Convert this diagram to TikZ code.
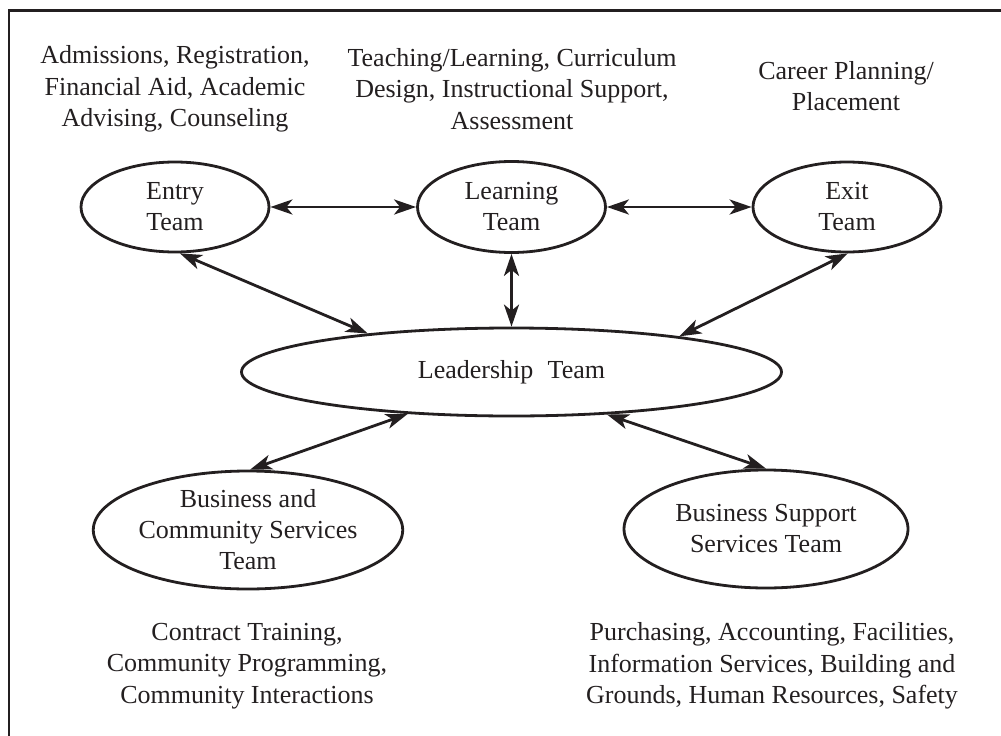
\documentclass[tikz,border=0pt]{standalone}
\usepackage{fontspec}
\setmainfont{Liberation Serif}
\usetikzlibrary{shapes.geometric,arrows.meta}
\definecolor{ink}{RGB}{35,31,32}
\tikzset{
  team/.style={draw=ink, line width=2.8pt, ellipse, inner sep=0pt, align=center, text=ink,
    font=\fontsize{26}{31}\selectfont},
  label/.style={align=center, text=ink, font=\fontsize{26}{31.5}\selectfont, inner sep=0pt},
  arr/.style={draw=ink, line width=2.8pt, {Stealth[length=22pt,width=15pt,inset=6pt]}-{Stealth[length=22pt,width=15pt,inset=6pt]}}
}
\begin{document}
\begin{tikzpicture}[x=1pt,y=-1pt]
\clip (0,0) rectangle (1001,736);
\draw[ink, line width=2.8pt] (9,760) -- (9,10.5) -- (1020,10.5);

\node[team, minimum width=188pt, minimum height=90pt] (entry) at (175,207) {Entry\\Team};
\node[team, minimum width=188pt, minimum height=91pt] (learning) at (511.5,207) {Learning\\Team};
\node[team, minimum width=188pt, minimum height=90pt] (exit) at (847,207) {Exit\\Team};
\node[team, minimum width=540pt, minimum height=88pt] (leader) at (511.5,372) {Leadership\hspace{0.3em} Team};
\node[team, minimum width=283pt, minimum height=118pt] (bcs) at (248,530) {Business and\\Community Services\\Team};
\node[team, minimum width=284pt, minimum height=118pt] (bss) at (766,529) {Business Support\\Services Team};

\node[label] (tl) at (175,89) {Admissions, Registration,\\Financial Aid, Academic\\Advising, Counseling};
\node[label] (tm) at (512,89) {Teaching/Learning, Curriculum\\Design, Instructional Support,\\Assessment};
\node[label] (tr) at (846,86) {Career Planning/\\Placement};
\node[label] (bl) at (247,666) {Contract Training,\\Community Programming,\\Community Interactions};
\node[label] (br) at (772,666) {Purchasing, Accounting, Facilities,\\Information Services, Building and\\Grounds, Human Resources, Safety};

\draw[arr] (entry.east) -- (learning.west);
\draw[arr] (learning.east) -- (exit.west);
\draw[arr] (learning.south) -- (leader.north);
\draw[arr] (entry.-84) -- (leader.165);
\draw[arr] (exit.-89) -- (leader.12);
\draw[arr] (leader.202) -- (bcs.88);
\draw[arr] (leader.-24) -- (bss.90);
\end{tikzpicture}
\end{document}
